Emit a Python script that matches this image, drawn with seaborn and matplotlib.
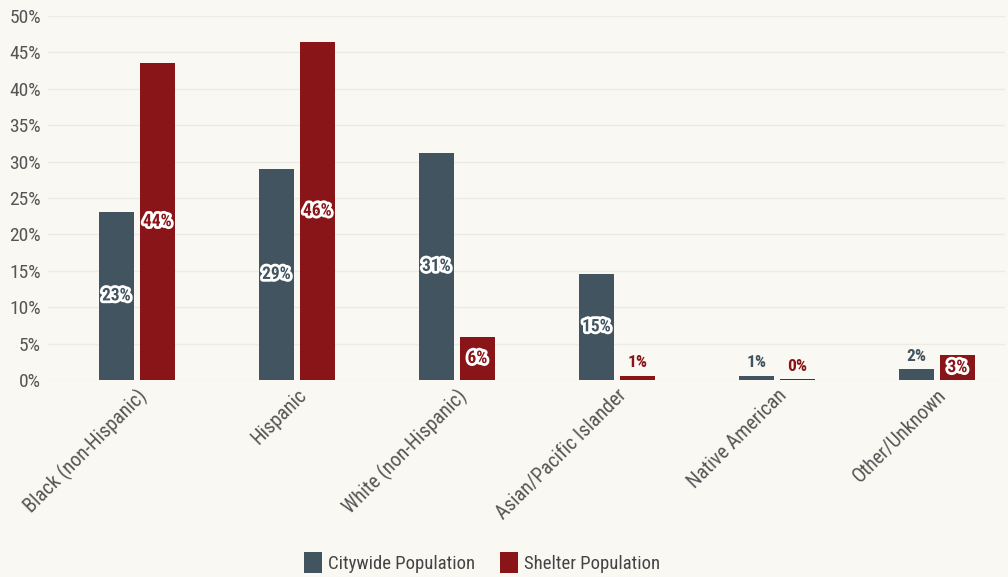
import matplotlib
matplotlib.use("Agg")
import matplotlib.pyplot as plt
import matplotlib.patheffects as pe
from matplotlib import font_manager
from matplotlib.patches import Patch
import seaborn as sns
import pandas as pd

categories = ["Black (non-Hispanic)", "Hispanic", "White (non-Hispanic)",
              "Asian/Pacific Islander", "Native American", "Other/Unknown"]
citywide = [23.1, 29.0, 31.2, 14.6, 0.6, 1.5]
shelter = [43.5, 46.4, 5.9, 0.55, 0.1, 3.4]
series = ["Citywide Population", "Shelter Population"]
yticks = [0, 5, 10, 15, 20, 25, 30, 35, 40, 45, 50]

colors = {"Citywide Population": "#41545f", "Shelter Population": "#8a1518"}
bg = "#f9f8f3"

df = pd.DataFrame({
    "category": categories * 2,
    "series": [series[0]] * len(categories) + [series[1]] * len(categories),
    "value": citywide + shelter,
})

sns.set_theme(style="white")
names = {f.name for f in font_manager.fontManager.ttflist}
fam = "Roboto Condensed" if "Roboto Condensed" in names else "Roboto"
plt.rcParams["font.family"] = [fam, "DejaVu Sans"]

fig = plt.figure(figsize=(10.08, 5.77), dpi=100, facecolor=bg)
ax = fig.add_axes([48 / 1008, 197 / 577, (1005 - 48) / 1008, (380 - 16) / 577])
ax.set_facecolor(bg)

sns.barplot(data=df, x="category", y="value", hue="series", order=categories,
            hue_order=series, palette=colors, width=0.5125, gap=0.146,
            ax=ax, legend=False, saturation=1, edgecolor="none")

ax.set_ylim(0, 50)
ax.set_xlim(-0.556, 5.425)
ax.set_yticks(yticks)
ax.set_yticklabels([f"{t}%" for t in yticks], fontsize=14, color="#555555")
ax.yaxis.grid(True, color="#ecebe6", linewidth=1)
ax.set_axisbelow(True)
for s in ax.spines.values():
    s.set_visible(False)
ax.tick_params(axis="y", length=0, pad=5)
ax.tick_params(axis="x", length=0, pad=4)
ax.set_xlabel("")
ax.set_ylabel("")
ax.set_xticks(range(len(categories)))
ax.set_xticklabels(categories, rotation=45, ha="right", rotation_mode="anchor",
                   fontsize=14.5, color="#555555")

# value labels
for container, name in zip(ax.containers, series):
    col = colors[name]
    for bar in container:
        h = bar.get_height()
        xc = bar.get_x() + bar.get_width() / 2
        txt = f"{round(h):.0f}%"
        if h >= 3:
            ax.text(xc, h / 2, txt, ha="center", va="center", fontsize=12.5,
                    fontweight="bold", color=col,
                    path_effects=[pe.withStroke(linewidth=4, foreground="white")])
        else:
            ax.annotate(txt, (xc, h), xytext=(0, 4), textcoords="offset points",
                        ha="center", va="bottom", fontsize=12.5, fontweight="bold",
                        color=col)

# legend
handles = [Patch(facecolor=colors[s], edgecolor="none", label=s) for s in series]
fig.legend(handles=handles, loc="center", bbox_to_anchor=(0.478, 0.025), ncol=2,
           frameon=False, fontsize=13.5, handlelength=1.0, handleheight=1.3,
           handletextpad=0.3, columnspacing=1.3, labelcolor="#444444")

fig.savefig("out.png", dpi=100, facecolor=bg)
